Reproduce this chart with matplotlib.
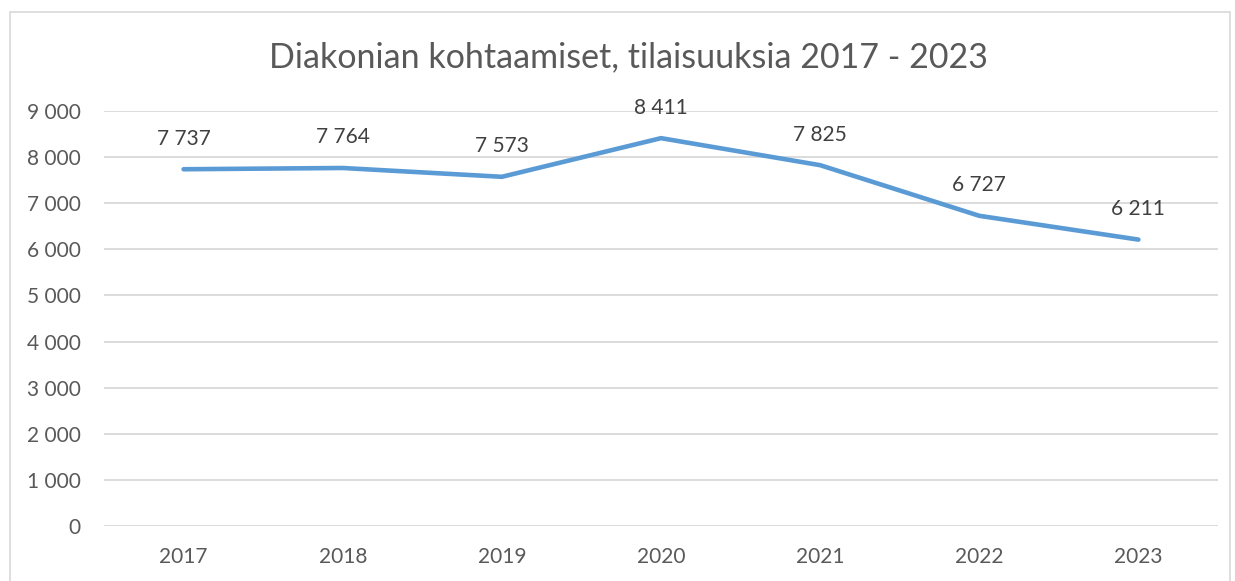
import matplotlib
matplotlib.use("Agg")
import matplotlib.pyplot as plt
from matplotlib.patches import Rectangle

years = ["2017", "2018", "2019", "2020", "2021", "2022", "2023"]
values = [7737, 7764, 7573, 8411, 7825, 6727, 6211]
yticks = [0, 1000, 2000, 3000, 4000, 5000, 6000, 7000, 8000, 9000]
title = "Diakonian kohtaamiset, tilaisuuksia 2017 - 2023"

def fmt(v):
    return f"{v:,}".replace(",", " ")

plt.rcParams['font.family'] = ['Lato', 'DejaVu Sans']
W, H = 1235, 581
fig = plt.figure(figsize=(W / 100, H / 100), dpi=100)
fig.patches.append(Rectangle((10 / W, -0.1), (1230 - 10) / W, 1.1 - 12 / H,
                             transform=fig.transFigure, fill=False,
                             edgecolor="#D9D9D9", linewidth=1.2))

ax = fig.add_axes([104 / W, 1 - 526 / H, (1218 - 104) / W, (526 - 111) / H])
x = list(range(len(years)))
ax.plot(x, values, color="#5B9BD5", linewidth=3.3, solid_capstyle="round",
        solid_joinstyle="round", zorder=3)
for xi, v in zip(x, values):
    ax.annotate(fmt(v), (xi, v), xytext=(0, 22), textcoords="offset points",
                ha="center", va="center", fontsize=15, color="#404040")

ax.set_xlim(-0.5, len(years) - 0.5)
ax.set_ylim(0, 9000)
ax.set_yticks(yticks)
ax.set_yticklabels([fmt(t) for t in yticks])
ax.set_xticks(x)
ax.set_xticklabels(years)
ax.grid(axis="y", color="#D9D9D9", linewidth=1.3)
ax.set_axisbelow(True)
for s in ax.spines.values():
    s.set_visible(False)
ax.tick_params(axis="both", length=0, labelsize=15, colors="#595959")
ax.tick_params(axis="y", pad=17)
ax.tick_params(axis="x", pad=15)

fig.text(628 / W, 1 - 57 / H, title, ha="center", va="center", fontsize=24.5,
         color="#595959")

fig.savefig("out.png", dpi=100)
